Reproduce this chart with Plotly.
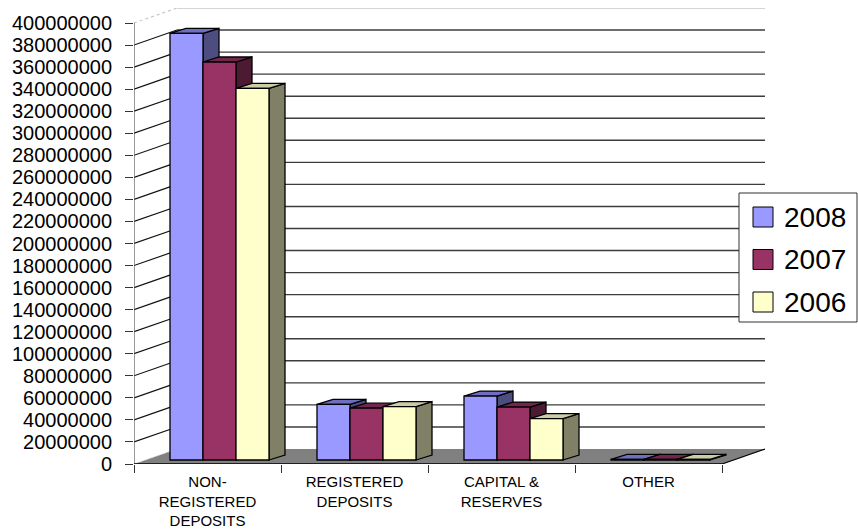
import plotly.graph_objects as go

# ---------------- data ----------------
categories = ["NON-<br>REGISTERED<br>DEPOSITS", "REGISTERED<br>DEPOSITS",
              "CAPITAL &<br>RESERVES", "OTHER"]
years = ["2008", "2007", "2006"]
values_2008 = [387000000, 50500000, 58000000, 500000]
values_2007 = [361000000, 47000000, 48000000, 500000]
values_2006 = [337000000, 48500000, 37500000, 500000]
series = [values_2008, values_2007, values_2006]

front_colors = ["#9999FF", "#993366", "#FFFFCC"]
side_colors = ["#4D4D80", "#4D1A33", "#808066"]
top_colors = ["#6E6EC2", "#72264E", "#CDCDA5"]

# ---------------- geometry (pixels) ----------------
W, H = 858, 531
PX_LEFT = 134          # pixel of first category boundary
CAT_PX = 147           # pixel width of one category
PX_ZERO = 464          # pixel of value 0 on front axis
PX_TOP = 23            # pixel of value 400000000 on front axis
YMAX = 400000000
WALL_DX, WALL_DY = 43, 15        # depth of floor / walls
FRONT_DX, FRONT_DY = 12, 4       # bar front-face shift into depth
SIDE_DX, SIDE_DY = 16, 5         # bar depth
BAR_PX = 33

kx = 1.0 / CAT_PX
ky = YMAX / (PX_ZERO - PX_TOP)
ncat = len(categories)

plot_right = PX_LEFT + ncat * CAT_PX + WALL_DX
plot_top = PX_TOP - WALL_DY
x_range = [-0.5, -0.5 + (plot_right - PX_LEFT) * kx]
y_range = [0, (PX_ZERO - plot_top) * ky]

ddx, ddy = WALL_DX * kx, WALL_DY * ky
fdx, fdy = FRONT_DX * kx, FRONT_DY * ky
sdx, sdy = SIDE_DX * kx, SIDE_DY * ky
bw = BAR_PX * kx
xl, xr = -0.5, ncat - 0.5


def path(pts):
    return "M " + " L ".join(f"{x:.6f},{y:.1f}" for x, y in pts) + " Z"


def px2paper(px, py):
    return ((px - PX_LEFT) / (plot_right - PX_LEFT),
            (PX_ZERO - py) / (PX_ZERO - plot_top))


shapes = []
# floor
shapes.append(dict(type="path", layer="below", xref="x", yref="y",
                   path=path([(xl, 0), (xr, 0), (xr + ddx, ddy), (xl + ddx, ddy)]),
                   fillcolor="#808080", line=dict(width=0)))
# gridlines: left wall diagonals + back wall horizontals
for v in range(20000000, YMAX + 1, 20000000):
    top = v == YMAX
    shapes.append(dict(type="line", layer="below", xref="x", yref="y",
                       x0=xl, y0=v, x1=xl + ddx, y1=v + ddy,
                       line=dict(color="#C8C8C8" if top else "#111111",
                                 width=1.2, dash="dot" if top else "solid")))
    shapes.append(dict(type="line", layer="below", xref="x", yref="y",
                       x0=xl + ddx, y0=v + ddy, x1=xr + ddx, y1=v + ddy,
                       line=dict(color="#D4D4D4" if top else "#3C3C3C",
                                 width=2 if top else 1.4)))
# floor edges and front value axis
shapes.append(dict(type="line", layer="below", xref="x", yref="y",
                   x0=xl, y0=0, x1=xl + ddx, y1=ddy,
                   line=dict(color="#D0D0D0", width=1, dash="dot")))
shapes.append(dict(type="line", layer="below", xref="x", yref="y",
                   x0=xl, y0=0, x1=xl, y1=YMAX,
                   line=dict(color="#555555", width=1.2)))

# bar side and top faces (drawn in left-to-right order)
for c in range(ncat):
    for i, vals in enumerate(series):
        L = c - 1.5 * bw + i * bw + fdx
        R = L + bw
        B = fdy
        T = fdy + vals[c]
        shapes.append(dict(type="path", layer="below", xref="x", yref="y",
                           path=path([(R, B), (R + sdx, B + sdy), (R + sdx, T + sdy), (R, T)]),
                           fillcolor=side_colors[i], line=dict(color="#000000", width=1.3)))
        shapes.append(dict(type="path", layer="below", xref="x", yref="y",
                           path=path([(L, T), (R, T), (R + sdx, T + sdy), (L + sdx, T + sdy)]),
                           fillcolor=top_colors[i], line=dict(color="#000000", width=1.3)))

# front floor edge (category axis line) and right floor edge
shapes.append(dict(type="line", layer="above", xref="x", yref="y",
                   x0=xl, y0=0, x1=xr, y1=0, line=dict(color="#000000", width=1.5)))
shapes.append(dict(type="line", layer="above", xref="x", yref="y",
                   x0=xr, y0=0, x1=xr + ddx, y1=ddy, line=dict(color="#000000", width=1.2)))

fig = go.Figure()
for i, vals in enumerate(series):
    fig.add_trace(go.Bar(
        x=list(range(ncat)), y=vals, base=[fdy] * ncat,
        width=bw, offset=-1.5 * bw + i * bw + fdx,
        name=years[i], marker=dict(color=front_colors[i],
                                   line=dict(color="#000000", width=1.3)),
        showlegend=False))

# custom legend
annotations = []
lx0, ly0 = px2paper(739, 193)
lx1, ly1 = px2paper(857, 322)
shapes.append(dict(type="rect", xref="paper", yref="paper", layer="above",
                   x0=lx0, y0=ly1, x1=lx1, y1=ly0, fillcolor="#FFFFFF",
                   line=dict(color="#333333", width=1)))
for i, yr in enumerate(years):
    cy = 217 + i * 42.5
    sx0, sy0 = px2paper(753, cy - 10)
    sx1, sy1 = px2paper(773, cy + 10)
    shapes.append(dict(type="rect", xref="paper", yref="paper", layer="above",
                       x0=sx0, y0=sy1, x1=sx1, y1=sy0, fillcolor=front_colors[i],
                       line=dict(color="#000000", width=1)))
    tx, ty = px2paper(782, cy)
    annotations.append(dict(xref="paper", yref="paper", x=tx, y=ty, text=yr,
                            showarrow=False, xanchor="left", yanchor="middle",
                            font=dict(size=28, color="#000000")))

fig.update_layout(
    width=W, height=H,
    margin=dict(l=PX_LEFT, r=W - plot_right, t=plot_top, b=H - PX_ZERO, pad=0,
                autoexpand=False),
    paper_bgcolor="#FFFFFF", plot_bgcolor="rgba(0,0,0,0)",
    barmode="overlay",
    font=dict(family="Liberation Sans, Arial, sans-serif", color="#000000"),
    shapes=shapes, annotations=annotations,
    xaxis=dict(range=x_range, tickmode="array", tickvals=list(range(ncat)),
               ticktext=categories, ticks="", showgrid=False, zeroline=False,
               showline=False, tickfont=dict(size=15), ticklabelstandoff=7,
               automargin=False,
               minor=dict(tickmode="array", tickvals=[k - 0.5 for k in range(ncat + 1)],
                          ticks="outside", ticklen=8, tickcolor="#333333", tickwidth=1.2,
                          showgrid=False),
               fixedrange=True),
    yaxis=dict(range=y_range, tick0=0, dtick=20000000, tickformat=".0f",
               ticks="outside", ticklen=8, tickcolor="#333333", tickwidth=1.2,
               showgrid=False, zeroline=False, showline=False, automargin=False,
               tickfont=dict(size=20), ticklabelstandoff=9, fixedrange=True),
)

fig.write_html("out.html")
